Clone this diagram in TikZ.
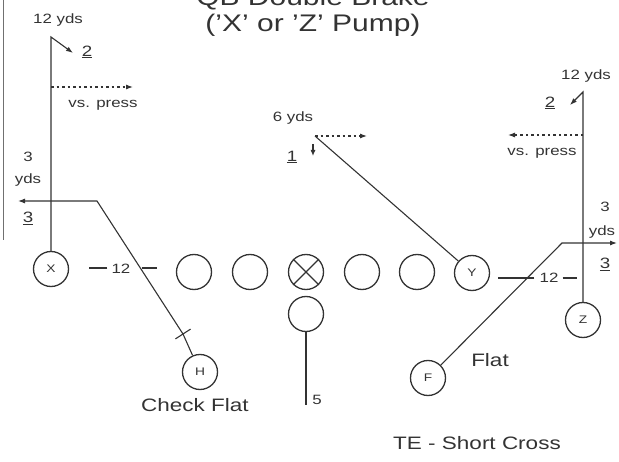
\documentclass[tikz,border=0pt]{standalone}
\usepackage{fontspec}
\setmainfont{Liberation Sans}[FakeStretch=1.25]
\usetikzlibrary{arrows.meta,calc}
\definecolor{ink}{gray}{0.2}
\tikzset{
  player/.style={draw=ink,circle,line width=1.3pt,minimum size=35pt,inner sep=0pt,text=ink,font=\fontsize{11}{11}\selectfont},
  route/.style={draw=ink,line width=1.1pt},
  tip/.style={-{Latex[length=7pt,width=5pt]}},
  press/.style={route,dash pattern=on 2.5pt off 3pt,tip},
  small/.style={font=\fontsize{13.5}{14}\selectfont,text=ink,inner sep=0pt},
  big/.style={font=\fontsize{18}{20}\selectfont,text=ink,inner sep=0pt},
  num/.style={font=\fontsize{15}{16}\selectfont,text=ink,inner sep=0pt}
}
\begin{document}
\begin{tikzpicture}
\useasboundingbox (0,0) rectangle (619pt,461pt);
\draw[ink!70,line width=1pt] (3pt,461pt) -- (3pt,221pt);
% title
\node[font=\fontsize{24}{26}\selectfont,text=ink,anchor=base] (title1) at (313pt,455pt) {QB Double Brake};
\node[font=\fontsize{24}{26}\selectfont,text=ink,anchor=base] (title2) at (313pt,429pt) {('X' or 'Z' Pump)};
% line
\foreach \n/\x in {L1/194,L2/250,C/306,R1/362,R2/417}
  \node[player] (\n) at (\x pt,189pt) {};
\draw[ink,line width=1.3pt] (C.45) -- (C.225) (C.135) -- (C.315);
\node[player] (QB) at (306pt,147pt) {};
\node[player] (X) at (51pt,192pt) {X};
\node[player] (Y) at (472pt,188pt) {Y};
\node[player] (Z) at (583pt,141pt) {Z};
\node[player] (H) at (200pt,89pt) {H};
\node[player] (F) at (428pt,83pt) {F};
% X
\coordinate (XTop) at (51pt,424pt);
\coordinate (X2) at (73pt,408pt);
\draw[route,tip] (X) -- (XTop) -- (X2);
\coordinate (XPress) at (51pt,374pt);
\coordinate (XPressEnd) at (133pt,374pt);
\draw[press] (XPress) -- (XPressEnd);
\node[small] (x12yds) at (58pt,441pt) {12 yds};
\node[num] (x2) at (87pt,409pt) {\underline{2}};
\node[small] (xvs) at (103pt,356pt) {vs. press};
% H
\coordinate (HTick) at (183pt,127pt);
\coordinate (HBend) at (97pt,260pt);
\coordinate (HEnd) at (18pt,260pt);
\draw[route,tip] (H) -- (HTick) -- (HBend) -- (HEnd);
\draw[route] ($(HTick)!9pt!90:(HBend)$) -- ($(HTick)!9pt!-90:(HBend)$);
\node[small] (h3) at (28pt,304pt) {3};
\node[small] (hyds) at (28pt,281pt) {yds};
\node[num] (h3u) at (28pt,243pt) {\underline{3}};
\node[big] (hlabel) at (195pt,56pt) {Check Flat};
\node[small] (l12) at (121pt,192pt) {12};
\draw[route] ($(l12.west)+(-4pt,1pt)$) -- ++(-18pt,0);
\draw[route] ($(l12.east)+(11pt,1pt)$) -- ++(15pt,0);
% QB
\coordinate (QBEnd) at (306pt,56pt);
\draw[route] (QB) -- (QBEnd);
\node[small] (qb5) at (317pt,61pt) {5};
% Y
\coordinate (YBend) at (315pt,325pt);
\coordinate (YPressEnd) at (367pt,325pt);
\draw[route] (Y) -- (YBend);
\draw[press] (YBend) -- (YPressEnd);
\coordinate (YDrop) at (313pt,317pt);
\coordinate (YDropEnd) at (313pt,305pt);
\draw[route,-{Latex[length=6pt,width=5pt]}] (YDrop) -- (YDropEnd);
\node[small] (y6yds) at (293pt,343pt) {6 yds};
\node[num] (y1) at (292pt,304pt) {\underline{1}};
% Z
\coordinate (ZTop) at (583pt,369pt);
\coordinate (Z2) at (570pt,356pt);
\draw[route,tip] (Z) -- (ZTop) -- (Z2);
\coordinate (ZPress) at (583pt,326pt);
\coordinate (ZPressEnd) at (508pt,326pt);
\draw[press] (ZPress) -- (ZPressEnd);
\node[small] (z12yds) at (586pt,385pt) {12 yds};
\node[num] (z2) at (550pt,358pt) {\underline{2}};
\node[small] (zvs) at (542pt,308pt) {vs. press};
% F
\coordinate (FBend) at (562pt,218pt);
\coordinate (FEnd) at (617pt,218pt);
\draw[route,tip] (F) -- (FBend) -- (FEnd);
\node[small] (f3) at (605pt,254pt) {3};
\node[small] (fyds) at (602pt,229pt) {yds};
\node[num] (f3u) at (605pt,197pt) {\underline{3}};
\node[big] (flabel) at (490pt,101pt) {Flat};
\node[small] (r12) at (549pt,183pt) {12};
\draw[route] ($(r12.west)+(-5pt,0)$) -- ++(-36pt,0);
\draw[route] ($(r12.east)+(4pt,0)$) -- ++(14pt,0);
% TE
\node[big] (te) at (477pt,18pt) {TE - Short Cross};
\end{tikzpicture}
\end{document}
